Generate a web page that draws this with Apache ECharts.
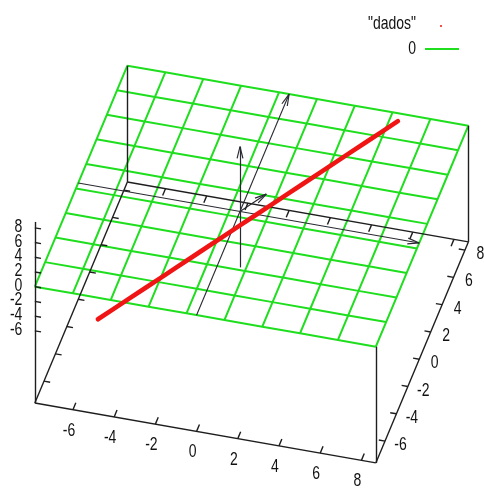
<!DOCTYPE html>
<html>
<head>
<meta charset="utf-8">
<script src="https://cdn.jsdelivr.net/npm/echarts@6/dist/echarts.min.js"></script>
<style>
  html, body { margin: 0; padding: 0; background: #ffffff; }
  #chart { width: 484px; height: 488px; }
</style>
</head>
<body>
<div id="chart"></div>
<script>
// ---- axis ranges ----
const xRange = [-7.85, 8.7];
const yRange = [-7.6, 8.6];
const zRange = [-7.6, 8.8];
const tickValues = [-6, -4, -2, 0, 2, 4, 6, 8];
const tickLabels = ['-6', '-4', '-2', '0', '2', '4', '6', '8'];

// ---- surface "0": iso-lines of the plane z = 0 ----
const surfaceX = [-7.85, -6.01, -4.17, -2.33, -0.49, 1.35, 3.19, 5.02, 6.86, 8.7];
const surfaceY = [-7.6, -5.8, -4.0, -2.2, -0.4, 1.4, 3.2, 5.0, 6.8, 8.6];
const surfaceLevel = 0;

// ---- "dados" ----
const dadosX = [-5.4, -4.8, -4.2, -3.6, -3.0, -2.4, -1.8, -1.2, -0.6, 0, 0.6, 1.2, 1.8, 2.4, 3.0, 3.6, 4.2, 4.8, 5.4, 6.0];
const dadosY = [-5.4, -4.8, -4.2, -3.6, -3.0, -2.4, -1.8, -1.2, -0.6, 0, 0.6, 1.2, 1.8, 2.4, 3.0, 3.6, 4.2, 4.8, 5.4, 6.0];
const dadosZ = [-7.3, -6.7, -6.1, -5.5, -4.9, -4.3, -3.7, -3.1, -2.5, -1.9, -1.3, -0.7, -0.1, 0.5, 1.1, 1.7, 2.3, 2.9, 3.5, 4.1];

// ---- direction vector drawn from the origin ----
const unitVector = [1, 1, 1];

// ---- view (rotation about x, rotation about z, scale, z scale) ----
const view = { rotX: 49.6, rotZ: 15.18, scale: 176.66, zScale: 0.4485, center: [251.6, 201.75], ticsLevel: 0.5 };

const xMin = xRange[0], xMax = xRange[1];
const yMin = yRange[0], yMax = yRange[1];
const zMin = zRange[0], zMax = zRange[1];
const zBase = zMin - view.ticsLevel * (zMax - zMin);

const cT = Math.cos(view.rotZ * Math.PI / 180), sT = Math.sin(view.rotZ * Math.PI / 180);
const cP = Math.cos(view.rotX * Math.PI / 180), sP = Math.sin(view.rotX * Math.PI / 180);

// orthographic projection of a 3D point into the flat plotting plane
function project(x, y, z) {
  const xn = (x - (xMin + xMax) / 2) / ((xMax - xMin) / 2);
  const yn = (y - (yMin + yMax) / 2) / ((yMax - yMin) / 2);
  const zn = (z - (zMin + zMax) / 2) / ((zMax - zMin) / 2);
  const u = xn * cT + yn * sT;
  const d = -xn * sT + yn * cT;
  return [view.center[0] + view.scale * u,
          view.center[1] - view.scale * (d * cP + zn * view.zScale * sP)];
}
function seg(a, b) { return { coords: [project(a[0], a[1], a[2]), project(b[0], b[1], b[2])] }; }

// ---- surface mesh ----
const meshLines = [];
surfaceX.forEach(function (x) {
  meshLines.push({ coords: surfaceY.map(function (y) { return project(x, y, surfaceLevel); }) });
});
surfaceY.forEach(function (y) {
  meshLines.push({ coords: surfaceX.map(function (x) { return project(x, y, surfaceLevel); }) });
});

// ---- box: base, verticals, tics ----
const boxLines = [
  seg([xMin, yMin, zBase], [xMax, yMin, zBase]),
  seg([xMax, yMin, zBase], [xMax, yMax, zBase]),
  seg([xMax, yMax, zBase], [xMin, yMax, zBase]),
  seg([xMin, yMax, zBase], [xMin, yMin, zBase]),
  seg([xMin, yMin, zBase], [xMin, yMin, zMax]),
  seg([xMax, yMin, zBase], [xMax, yMin, surfaceLevel]),
  seg([xMin, yMax, zBase], [xMin, yMax, surfaceLevel]),
  seg([xMax, yMax, zBase], [xMax, yMax, surfaceLevel])
];
const xTicLen = 0.5, yTicLen = 0.3, zTicLen = 0.3;
tickValues.forEach(function (v) {
  boxLines.push(seg([v, yMin, zBase], [v, yMin + xTicLen, zBase]));
  boxLines.push(seg([v, yMax, zBase], [v, yMax - xTicLen, zBase]));
  boxLines.push(seg([xMax, v, zBase], [xMax - yTicLen, v, zBase]));
  boxLines.push(seg([xMin, v, zBase], [xMin + yTicLen, v, zBase]));
  boxLines.push(seg([xMin, yMin, v], [xMin + zTicLen, yMin, v]));
});

// ---- arrows ----
const arrowDefs = [
  [[xMin, 0, 0], [xMax, 0, 0]],
  [[0, yMin, 0], [0, yMax, 0]],
  [[0, 0, zMin], [0, 0, zMax]],
  [[0, 0, 0], unitVector]
];
const arrowLines = [];
const headLen = 12, headAngle = 14 * Math.PI / 180;
arrowDefs.forEach(function (a) {
  const p0 = project(a[0][0], a[0][1], a[0][2]);
  const p1 = project(a[1][0], a[1][1], a[1][2]);
  arrowLines.push({ coords: [p0, p1] });
  const ang = Math.atan2(p0[1] - p1[1], p0[0] - p1[0]);
  const len = Math.min(headLen, 0.45 * Math.hypot(p1[0] - p0[0], p1[1] - p0[1]));
  [-1, 1].forEach(function (s) {
    arrowLines.push({ coords: [p1, [p1[0] + len * Math.cos(ang + s * headAngle),
                                    p1[1] + len * Math.sin(ang + s * headAngle)]] });
  });
});

// ---- data points ----
const dadosPts = dadosX.map(function (x, i) { return project(x, dadosY[i], dadosZ[i]); });

const GREEN = '#1ede1e', RED = '#f01414', INK = '#1e1e1e';
const FONT = '14px "Liberation Sans", Arial, sans-serif';
const STRETCH = 1.3;

const chart = echarts.init(document.getElementById('chart'));
chart.setOption({
  animation: false,
  backgroundColor: '#ffffff',
  grid: { left: 0, right: 0, top: 0, bottom: 0 },
  xAxis: { type: 'value', min: 0, max: 484, show: false },
  yAxis: { type: 'value', min: 0, max: 488, inverse: true, show: false },
  series: [
    { name: '0', type: 'lines', coordinateSystem: 'cartesian2d', polyline: true, silent: true,
      data: meshLines, lineStyle: { color: GREEN, width: 2, opacity: 1, curveness: 0 } },
    { name: 'box', type: 'lines', coordinateSystem: 'cartesian2d', silent: true,
      data: boxLines, lineStyle: { color: INK, width: 1.4, opacity: 1, curveness: 0 } },
    { name: 'arrows', type: 'lines', coordinateSystem: 'cartesian2d', silent: true,
      data: arrowLines, lineStyle: { color: '#2a2a33', width: 1.2, opacity: 1, curveness: 0 } },
    { name: '"dados"', type: 'line', data: dadosPts, showSymbol: false, silent: true,
      lineStyle: { color: RED, width: 4.6, cap: 'round' } }
  ]
});

// ---- tick labels and key ----
function px(p) { return chart.convertToPixel({ xAxisIndex: 0, yAxisIndex: 0 }, p); }
function label(p, text, align, dx, dy) {
  return { type: 'text', x: p[0] + dx, y: p[1] + dy, scaleY: STRETCH, silent: true,
           style: { text: text, font: FONT, fill: '#111', align: align, verticalAlign: 'middle' } };
}
const graphics = [];
tickValues.forEach(function (v, i) {
  graphics.push(label(px(project(v, yMin, zBase)), tickLabels[i], 'center', -4, 21));
  graphics.push(label(px(project(xMax, v, zBase)), tickLabels[i], 'center', 15.5, 4));
  graphics.push(label(px(project(xMin, yMin, v)), tickLabels[i], 'right', -12.5, -1));
});
graphics.push({ type: 'text', x: 416, y: 24, scaleY: STRETCH, silent: true,
  style: { text: '"dados"', font: FONT, fill: '#111', align: 'right', verticalAlign: 'middle' } });
graphics.push({ type: 'circle', shape: { cx: 441, cy: 26, r: 1 }, silent: true, style: { fill: RED } });
graphics.push({ type: 'text', x: 416, y: 49, scaleY: STRETCH, silent: true,
  style: { text: '0', font: FONT, fill: '#111', align: 'right', verticalAlign: 'middle' } });
graphics.push({ type: 'line', shape: { x1: 425, y1: 49, x2: 459, y2: 49 }, silent: true,
  style: { stroke: GREEN, lineWidth: 2 } });
chart.setOption({ graphic: graphics });
</script>
</body>
</html>
